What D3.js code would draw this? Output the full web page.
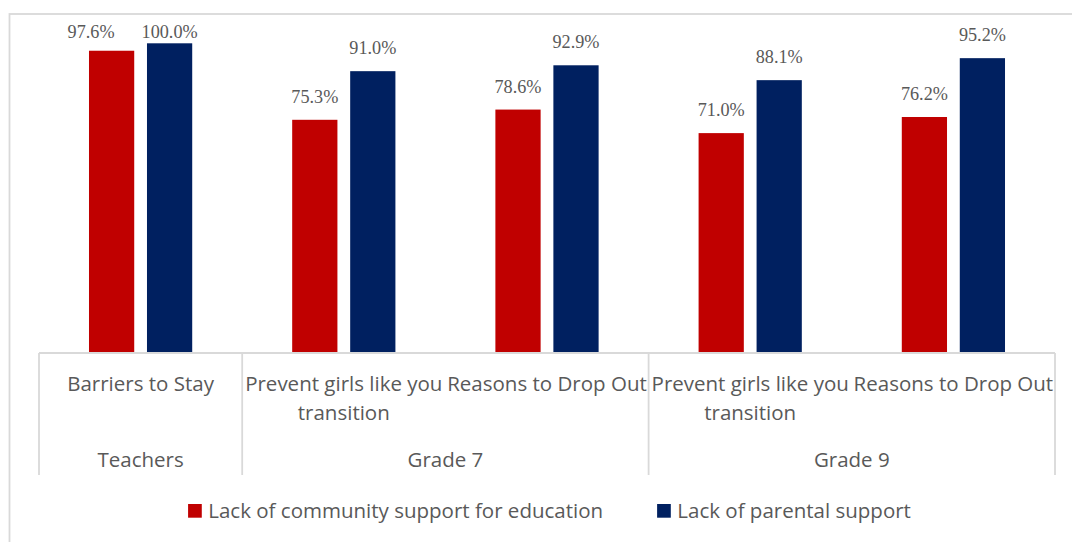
<!DOCTYPE html>
<html>
<head>
<meta charset="utf-8">
<script src="https://cdn.jsdelivr.net/npm/d3@7"></script>
<style>
  html, body { margin: 0; padding: 0; background: #fff; }
  svg { display: block; }
</style>
</head>
<body>
<svg id="chart" width="1072" height="542"></svg>
<script>
// Category labels (inner level) and their groups (outer level)
const categories = [
  "Barriers to Stay",
  "Prevent girls like you transition",
  "Reasons to Drop Out",
  "Prevent girls like you transition",
  "Reasons to Drop Out"
];
const groupNames = ["Teachers", "Grade 7", "Grade 9"];
const groupSizes = [1, 2, 2];

const seriesNames = ["Lack of community support for education", "Lack of parental support"];
const community = [97.6, 75.3, 78.6, 71.0, 76.2];
const parental  = [100.0, 91.0, 92.9, 88.1, 95.2];

const seriesColors = ["#C00000", "#002060"];
const textColor = "#595959";
const lineColor = "#D9D9D9";
const sansFont = "'Open Sans', 'Noto Sans', sans-serif";
const serifFont = "'Liberation Serif', 'DejaVu Serif', serif";

const svg = d3.select("#chart");

// Chart frame
svg.append("rect")
  .attr("x", 9.5).attr("y", 14)
  .attr("width", 1200).attr("height", 700)
  .attr("fill", "#fff")
  .attr("stroke", lineColor).attr("stroke-width", 1.8);

const plot = { left: 39, right: 1055, top: 43.3, bottom: 353 };

const x = d3.scaleBand()
  .domain(d3.range(categories.length))
  .range([plot.left, plot.right])
  .padding(0);

const xInner = d3.scaleBand()
  .domain(d3.range(seriesNames.length))
  .range([0, x.bandwidth()])
  .paddingInner(0.22)
  .paddingOuter(0.862);

const y = d3.scaleLinear().domain([0, 100]).range([plot.bottom, plot.top]);

const series = [community, parental];
const rows = [];
series.forEach((vals, s) => vals.forEach((v, i) => rows.push({ s, i, v })));

// Bars
svg.append("g").selectAll("rect")
  .data(rows)
  .join("rect")
  .attr("x", d => x(d.i) + xInner(d.s))
  .attr("y", d => y(d.v))
  .attr("width", xInner.bandwidth())
  .attr("height", d => y(0) - y(d.v))
  .attr("fill", d => seriesColors[d.s]);

// Value labels; labels near the top are held inside the frame,
// and the first one is shifted left so it clears its neighbour
const labelTopLimit = 38.3;
const labelNudge = { "0-0": -20.5 };
svg.append("g").selectAll("text")
  .data(rows)
  .join("text")
  .attr("x", d => x(d.i) + xInner(d.s) + xInner.bandwidth() / 2 + (labelNudge[d.s + "-" + d.i] || 0))
  .attr("y", d => Math.max(y(d.v) - 17, labelTopLimit))
  .attr("text-anchor", "middle")
  .attr("font-family", serifFont)
  .attr("font-size", 18.2)
  .attr("fill", textColor)
  .text(d => d.v.toFixed(1) + "%");

// Category axis: baseline and group separators
const axisG = svg.append("g");
axisG.append("line")
  .attr("x1", plot.left).attr("x2", plot.right)
  .attr("y1", plot.bottom).attr("y2", plot.bottom)
  .attr("stroke", lineColor).attr("stroke-width", 1.8);

const groupBounds = [];
let start = 0;
groupSizes.forEach((n, g) => {
  groupBounds.push({ name: groupNames[g], from: start, to: start + n });
  start += n;
});
const sepX = [plot.left].concat(groupBounds.map(b => x(b.to - 1) + x.bandwidth()));
axisG.selectAll("line.sep")
  .data(sepX)
  .join("line")
  .attr("class", "sep")
  .attr("x1", d => d).attr("x2", d => d)
  .attr("y1", plot.bottom).attr("y2", 475)
  .attr("stroke", lineColor).attr("stroke-width", 1.8);

// Inner category labels with word wrapping
const labelSize = 20.5;
const catLabels = axisG.selectAll("text.cat")
  .data(categories)
  .join("text")
  .attr("class", "cat")
  .attr("text-anchor", "middle")
  .attr("font-family", sansFont)
  .attr("font-size", labelSize)
  .attr("fill", textColor)
  .attr("y", 391);

catLabels.each(function(label, i) {
  const t = d3.select(this);
  const cx = x(i) + x.bandwidth() / 2;
  const maxW = x.bandwidth() + 10;
  const words = label.split(" ");
  const lines = [];
  let line = [];
  let probe = t.append("tspan").attr("x", cx);
  words.forEach(w => {
    line.push(w);
    probe.text(line.join(" "));
    if (probe.node().getComputedTextLength() > maxW && line.length > 1) {
      line.pop();
      lines.push(line.join(" "));
      line = [w];
    }
  });
  lines.push(line.join(" "));
  probe.remove();
  lines.forEach((ln, k) => {
    t.append("tspan").attr("x", cx).attr("dy", k === 0 ? 0 : 29).text(ln);
  });
});

// Outer group labels
axisG.selectAll("text.grp")
  .data(groupBounds)
  .join("text")
  .attr("class", "grp")
  .attr("x", b => (x(b.from) + x(b.to - 1) + x.bandwidth()) / 2)
  .attr("y", 467)
  .attr("text-anchor", "middle")
  .attr("font-family", sansFont)
  .attr("font-size", labelSize)
  .attr("fill", textColor)
  .text(b => b.name);

// Legend, centred under the chart
const legend = svg.append("g");
const sw = 13.7, swGap = 6.5, itemGap = 54;
const items = legend.selectAll("g")
  .data(seriesNames)
  .join("g");
items.append("rect")
  .attr("width", sw).attr("height", sw)
  .attr("y", 504)
  .attr("fill", (d, i) => seriesColors[i]);
items.append("text")
  .attr("y", 517.5)
  .attr("font-family", sansFont)
  .attr("font-size", labelSize)
  .attr("fill", textColor)
  .text(d => d);
const widths = [];
items.select("text").each(function() { widths.push(sw + swGap + this.getComputedTextLength()); });
const total = d3.sum(widths) + itemGap * (widths.length - 1);
let lx = 549.5 - total / 2;
items.each(function(d, i) {
  const g = d3.select(this);
  g.select("rect").attr("x", lx);
  g.select("text").attr("x", lx + sw + swGap);
  lx += widths[i] + itemGap;
});
</script>
</body>
</html>
